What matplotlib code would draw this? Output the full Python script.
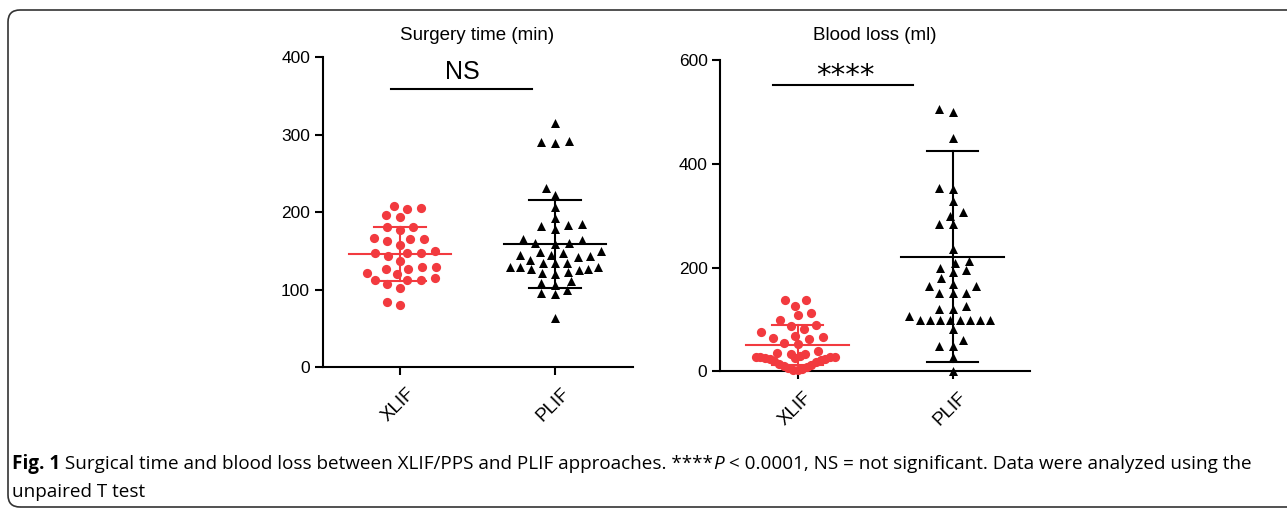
"""
Recreation of Fig. 1: surgery time and blood loss, XLIF vs PLIF
(scatter dot plots with mean +/- SD).
"""

import matplotlib
matplotlib.use("Agg")
import matplotlib.pyplot as plt
import matplotlib.transforms as mtransforms
from matplotlib.patches import FancyBboxPatch
import numpy as np

# ---------------------------------------------------------------------------
# Data
# ---------------------------------------------------------------------------

groups = ["XLIF", "PLIF"]

time_xlif = [205, 196, 194, 204, 208,
             181, 177, 181,
             166, 163, 166, 167, 158,
             147, 147, 143, 147, 150, 137,
             130, 127, 122, 127, 129, 120,
             115, 112, 107, 102, 112, 113,
             80, 84]
time_plif = [315, 292, 290, 291,
             231, 222, 207,
             185, 182, 179, 184, 192,
             166, 160, 159, 160, 164,
             149, 145, 142, 144, 145, 147, 150,
             135, 139, 135,
             130, 129, 127, 122, 120, 123, 125, 127, 130, 134,
             111, 106, 96, 94, 100, 109,
             63]

blood_xlif = [137, 138, 126, 109, 113, 98,
              87, 90, 82, 75,
              66, 62, 65, 69, 54, 52,
              39, 33, 33, 36,
              29, 28, 27, 26, 24, 21, 17, 13, 9, 5, 2,
              3, 7, 11, 15, 19, 23, 25, 27, 28]
blood_plif = [500, 505, 449,
              353, 352, 328,
              307, 300, 284, 283,
              235,
              209, 213, 200, 192, 195, 179,
              164, 150, 151, 151, 164, 169,
              120, 125, 120,
              99, 99, 99, 99, 99, 99, 99, 99, 107,
              82, 60, 49, 49, 28, 0]

# mean and SD as drawn in the figure
time_mean = [146, 159]
time_sd = [35, 57]
blood_mean = [51, 221]
blood_sd = [39, 203]

titles = ["Surgery time (min)", "Blood loss (ml)"]
time_ticks = [0, 100, 200, 300, 400]
blood_ticks = [0, 200, 400, 600]

RED = "#f23a3f"
BLACK = "#000000"

W, H, DPI = 1287, 508, 100
FONT = "Liberation Sans"


# ---------------------------------------------------------------------------
# Helpers
# ---------------------------------------------------------------------------

def swarm_offsets(values, px_per_y, px_per_x, band=None,
                  dx_max=14.0, dy0=9.0, budget=80.0, win=4.0):
    """
    Beeswarm-style horizontal offsets (data units).

    Horizontal spacing shrinks where many dots share one height.  `band`
    = (limit, dx, dy) packs every dot at or below `limit` into a single
    overlapping row, the way Prism draws a crowded baseline.
    """
    values = np.asarray(values, dtype=float)
    ypx = values * px_per_y
    in_band = np.zeros(len(values), dtype=bool)
    if band is not None:
        in_band = values <= band[0]
    free = ypx[~in_band]
    counts = np.array([max(1, (np.abs(free - y) < win).sum()) for y in ypx])
    dxs = np.minimum(dx_max, budget / counts)
    dys = np.full(len(values), dy0)
    if band is not None:
        dxs[in_band] = band[1]
        dys[in_band] = band[2]

    def pair(a, b):
        # separation (dx, dy) needed between two dots
        (dxa, dya, ba), (dxb, dyb, bb) = a, b
        if ba != bb:
            return min(dxa, dxb), min(dya, dyb)
        return 0.5 * (dxa + dxb), 0.5 * (dya + dyb)

    order = np.argsort(values, kind="stable")
    placed = []  # (x_px, y_px, (dx, dy, band))
    offsets = np.zeros(len(values))
    for i in order:
        y = ypx[i]
        me = (dxs[i], dys[i], in_band[i])
        cands = [0.0]
        for px, py, other in placed:
            sx, sy = pair(me, other)
            dy = abs(py - y)
            if dy < sy:
                dx = sx * np.sqrt(1 - (dy / sy) ** 2)
                cands += [px - dx, px + dx]
        cands.sort(key=lambda c: (round(abs(c), 6), c))
        for c in cands:
            ok = True
            for px, py, other in placed:
                sx, sy = pair(me, other)
                if ((c - px) / sx) ** 2 + ((y - py) / sy) ** 2 < 1 - 1e-6:
                    ok = False
                    break
            if ok:
                offsets[i] = c
                placed.append((c, y, me))
                break
    return offsets / px_per_x


def draw_panel(ax, data, means, sds, ticks, ymax, bands=(None, None)):
    ax.set_xlim(-0.5, 1.5)
    ax.set_ylim(0, ymax)

    bbox = ax.get_position()
    px_per_x = bbox.width * W / 2.0
    px_per_y = bbox.height * H / ymax

    styles = [dict(marker="o", color=RED, s=44),
              dict(marker="^", color=BLACK, s=42)]

    for i, (vals, mu, sd, st) in enumerate(zip(data, means, sds, styles)):
        off = swarm_offsets(vals, px_per_y, px_per_x, band=bands[i])
        ax.scatter(i + off, vals, marker=st["marker"], s=st["s"],
                   color=st["color"], linewidths=0, zorder=3, clip_on=False)
        # mean and SD bars
        ax.plot([i - 0.33, i + 0.33], [mu, mu], color=st["color"], lw=1.5, zorder=4)
        ax.plot([i, i], [mu - sd, mu + sd], color=st["color"], lw=1.5, zorder=4)
        for y in (mu - sd, mu + sd):
            ax.plot([i - 0.165, i + 0.165], [y, y], color=st["color"], lw=1.5, zorder=4)

    for side in ("top", "right"):
        ax.spines[side].set_visible(False)
    for side in ("left", "bottom"):
        ax.spines[side].set_linewidth(1.5)

    ax.set_yticks(ticks)
    ax.set_yticklabels([str(t) for t in ticks], fontsize=12.5, family=FONT)
    ax.set_xticks(range(len(groups)))
    ax.set_xticklabels(groups, rotation=45, ha="right", va="center",
                       rotation_mode="anchor", fontsize=13.5, family=FONT)
    ax.tick_params(axis="y", direction="out", length=6, width=1.5, pad=3)
    ax.tick_params(axis="x", direction="out", length=6, width=1.5, pad=11)

    # Prism puts the end of the slanted label a little right of the tick
    shift = mtransforms.ScaledTranslation(12 / DPI, 0, ax.figure.dpi_scale_trans)
    for lab in ax.get_xticklabels():
        lab.set_transform(lab.get_transform() + shift)


# ---------------------------------------------------------------------------
# Figure
# ---------------------------------------------------------------------------

fig = plt.figure(figsize=(W / DPI, H / DPI), dpi=DPI)

ax1 = fig.add_axes([322.5 / W, 1 - 367.3 / H, 310 / W, 310 / H])
ax2 = fig.add_axes([720 / W, 1 - 371.3 / H, 310 / W, 311.3 / H])

draw_panel(ax1, [time_xlif, time_plif], time_mean, time_sd, time_ticks, 400)
draw_panel(ax2, [blood_xlif, blood_plif], blood_mean, blood_sd, blood_ticks, 600,
           bands=((30, 4.7, 14.0), None))

# significance annotations
ax1.plot([-0.06, 0.85], [359, 359], color=BLACK, lw=1.5, clip_on=False)
ax1.text(0.4, 381, "NS", ha="center", va="center", fontsize=18, family=FONT)
ax2.plot([-0.157, 0.746], [552, 552], color=BLACK, lw=1.5, clip_on=False)
ax2.text(0.31, 570, "****", ha="center", va="center", fontsize=21,
         family="DejaVu Sans")

# panel titles
fig.text(477 / W, 1 - 35 / H, titles[0], ha="center", va="center",
         fontsize=13.5, family=FONT)
fig.text(875 / W, 1 - 35 / H, titles[1], ha="center", va="center",
         fontsize=13.5, family=FONT)

# caption (bold label + regular text + italic P), chained left to right
renderer = fig.canvas.get_renderer()
cap_font = ["Open Sans", "DejaVu Sans"]
cap_size = 13.6
line1 = [("Fig. 1", "bold", "normal"),
         (" Surgical time and blood loss between XLIF/PPS and PLIF approaches. ****",
          "normal", "normal"),
         ("P", "normal", "italic"),
         (" < 0.0001, NS = not significant. Data were analyzed using the",
          "normal", "normal")]
x = 12 / W
for txt, weight, style in line1:
    t = fig.text(x, 1 - 469 / H, txt, ha="left", va="baseline",
                 fontsize=cap_size, fontweight=weight, fontstyle=style,
                 family=cap_font)
    bb = t.get_window_extent(renderer=renderer)
    x = bb.x1 / W
fig.text(12 / W, 1 - 497 / H, "unpaired T test", ha="left", va="baseline",
         fontsize=cap_size, family=cap_font)

# rounded frame round the whole figure
frame = FancyBboxPatch((8, 1), 1300, 497,
                       boxstyle="round,pad=0,rounding_size=12",
                       transform=None, fill=False, edgecolor="#333333", lw=1.2)
fig.add_artist(frame)

fig.savefig("out.png", dpi=DPI)
plt.close(fig)
